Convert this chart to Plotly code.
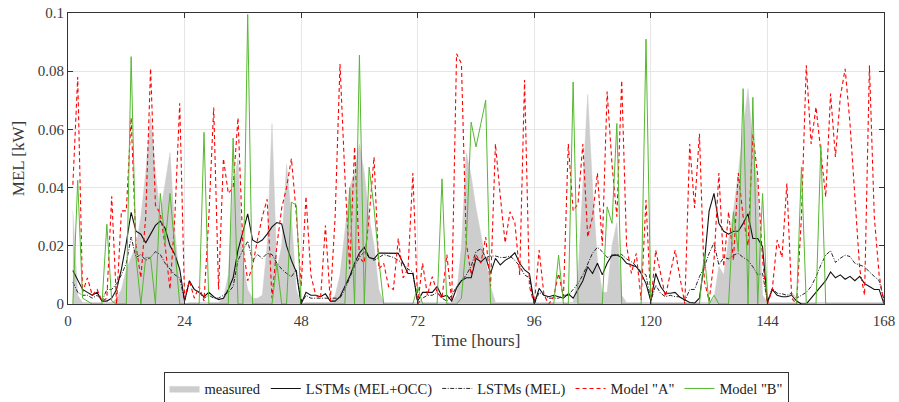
import plotly.graph_objects as go

hours = list(range(1, 169))

measured = [
    0.032, 0.003, 0.0005, 0.0005, 0.0005, 0.0005, 0.0005, 0.0005, 0.0005, 0.002, 0.005, 0.012,
    0.016, 0.02, 0.03, 0.045, 0.065, 0.045, 0.031, 0.042, 0.052, 0.025, 0.008, 0.0,
    0.0005, 0.0005, 0.0005, 0.0005, 0.0005, 0.0005, 0.0005, 0.002, 0.01, 0.04, 0.05, 0.015,
    0.005, 0.002, 0.002, 0.003, 0.02, 0.062, 0.012, 0.02, 0.048, 0.03, 0.005, 0.0,
    0.0005, 0.0005, 0.0005, 0.0005, 0.0005, 0.0005, 0.003, 0.01, 0.025, 0.04, 0.045, 0.055,
    0.045, 0.03, 0.02, 0.005, 0.0005, 0.0005, 0.0005, 0.0005, 0.0005, 0.0005, 0.0005, 0.0005,
    0.0005, 0.0005, 0.0005, 0.0005, 0.0005, 0.0005, 0.0005, 0.003, 0.02, 0.052, 0.044, 0.033,
    0.024, 0.015, 0.006, 0.0005, 0.0005, 0.0005, 0.0005, 0.0005, 0.0005, 0.0005, 0.0005, 0.0005,
    0.0005, 0.0005, 0.0005, 0.0005, 0.0005, 0.0005, 0.0005, 0.0005, 0.01, 0.04, 0.072, 0.04,
    0.015, 0.004, 0.004, 0.02, 0.028, 0.003, 0.0005, 0.0005, 0.0005, 0.0005, 0.0005, 0.0005,
    0.0005, 0.0005, 0.0005, 0.0005, 0.0005, 0.0005, 0.0005, 0.0005, 0.0005, 0.0005, 0.0005, 0.0005,
    0.002, 0.013, 0.01, 0.022, 0.032, 0.045, 0.06, 0.074, 0.055, 0.04, 0.003, 0.0005,
    0.0005, 0.0005, 0.0005, 0.0005, 0.0005, 0.0005, 0.0005, 0.0005, 0.0005, 0.0005, 0.0005, 0.0005,
    0.0005, 0.0005, 0.0005, 0.0005, 0.0005, 0.0005, 0.0005, 0.0005, 0.0005, 0.0005, 0.0005, 0.0005,
]

lstm_mel_occ = [
    0.0115, 0.0085, 0.005, 0.004, 0.003, 0.004, 0.001, 0.001, 0.002, 0.005, 0.012, 0.021,
    0.0315, 0.025, 0.024, 0.021, 0.024, 0.027, 0.0285, 0.026, 0.02, 0.017, 0.012, 0.001,
    0.008, 0.005, 0.004, 0.0025, 0.004, 0.0025, 0.0015, 0.002, 0.005, 0.009, 0.0185, 0.025,
    0.031, 0.022, 0.021, 0.022, 0.024, 0.0265, 0.028, 0.0275, 0.02, 0.015, 0.011, 0.0,
    0.004, 0.003, 0.003, 0.0025, 0.0035, 0.001, 0.001, 0.0025, 0.006, 0.0095, 0.014, 0.0175,
    0.0195, 0.016, 0.0155, 0.0175, 0.0175, 0.0175, 0.0175, 0.0174, 0.014, 0.0105, 0.0105, 0.001,
    0.004, 0.004, 0.004, 0.006, 0.0025, 0.003, 0.001, 0.0055, 0.008, 0.009, 0.009, 0.0157,
    0.0145, 0.016, 0.0105, 0.0157, 0.0134, 0.015, 0.016, 0.0176, 0.014, 0.0117, 0.0105, 0.0,
    0.0054, 0.003, 0.0025, 0.003, 0.0025, 0.002, 0.0035, 0.002, 0.005, 0.008, 0.0128, 0.0105,
    0.014, 0.01, 0.014, 0.0168, 0.0168, 0.016, 0.014, 0.0134, 0.0128, 0.0105, 0.007, 0.001,
    0.0105, 0.006, 0.0037, 0.0037, 0.004, 0.0023, 0.0014, 0.0005, 0.0003, 0.002, 0.014, 0.032,
    0.038, 0.0277, 0.025, 0.024, 0.025, 0.025, 0.0277, 0.031, 0.0225, 0.0225, 0.0197, 0.0005,
    0.005, 0.003, 0.0025, 0.0025, 0.003, 0.001, 0.0, 0.0, 0.002, 0.004, 0.006, 0.008,
    0.011, 0.009, 0.01, 0.0085, 0.0095, 0.008, 0.0095, 0.007, 0.006, 0.005, 0.005, 0.0,
]

lstm_mel = [
    0.0075, 0.004, 0.003, 0.003, 0.002, 0.003, 0.001, 0.005, 0.005, 0.007, 0.01, 0.014,
    0.023, 0.016, 0.017, 0.015, 0.016, 0.018, 0.017, 0.014, 0.012, 0.01, 0.009, 0.001,
    0.0077, 0.005, 0.004, 0.002, 0.003, 0.002, 0.002, 0.003, 0.004, 0.006, 0.015, 0.0185,
    0.0216, 0.015, 0.017, 0.0157, 0.0174, 0.017, 0.014, 0.012, 0.0105, 0.0094, 0.0117, 0.0,
    0.003, 0.002, 0.002, 0.002, 0.002, 0.002, 0.002, 0.002, 0.005, 0.009, 0.013, 0.016,
    0.018, 0.016, 0.015, 0.016, 0.017, 0.0165, 0.016, 0.015, 0.014, 0.012, 0.011, 0.0,
    0.002, 0.003, 0.003, 0.004, 0.002, 0.001, 0.003, 0.006, 0.008, 0.01, 0.013, 0.018,
    0.019, 0.016, 0.0165, 0.0165, 0.016, 0.016, 0.0165, 0.015, 0.013, 0.01, 0.009, 0.0,
    0.004, 0.003, 0.002, 0.002, 0.002, 0.003, 0.003, 0.005, 0.007, 0.01, 0.014, 0.0175,
    0.0195, 0.018, 0.016, 0.0165, 0.017, 0.017, 0.0155, 0.0145, 0.013, 0.011, 0.01, 0.001,
    0.0065, 0.0037, 0.0025, 0.003, 0.0025, 0.0025, 0.001, 0.005, 0.005, 0.0094, 0.0128, 0.0174,
    0.021, 0.0134, 0.016, 0.0155, 0.0168, 0.0174, 0.016, 0.015, 0.0128, 0.01, 0.0105, 0.0007,
    0.0054, 0.0037, 0.0035, 0.003, 0.0037, 0.002, 0.003, 0.004, 0.006, 0.0094, 0.0134, 0.0168,
    0.0183, 0.0143, 0.0157, 0.0168, 0.0163, 0.014, 0.0134, 0.0128, 0.011, 0.0094, 0.008, 0.0015,
]

model_a = [
    0.041, 0.078, 0.004, 0.009, 0.003, 0.005, 0.001, 0.002, 0.037, 0.0, 0.032, 0.032,
    0.064, 0.02, 0.009, 0.03, 0.081, 0.034, 0.031, 0.02, 0.005, 0.03, 0.069, 0.002,
    0.008, 0.002, 0.006, 0.001, 0.03, 0.0675, 0.005, 0.05, 0.038, 0.04, 0.064, 0.02,
    0.008, 0.013, 0.022, 0.03, 0.036, 0.002, 0.02, 0.033, 0.04, 0.05, 0.031, 0.006,
    0.037, 0.01, 0.003, 0.002, 0.027, 0.001, 0.03, 0.0825, 0.044, 0.012, 0.054, 0.016,
    0.014, 0.03, 0.0505, 0.012, 0.014, 0.006, 0.005, 0.0225, 0.009, 0.012, 0.045, 0.0,
    0.014, 0.003, 0.0094, 0.004, 0.002, 0.017, 0.001, 0.086, 0.0826, 0.021, 0.01, 0.017,
    0.014, 0.023, 0.006, 0.055, 0.037, 0.021, 0.0317, 0.028, 0.01, 0.077, 0.006, 0.0,
    0.0185, 0.003, 0.0, 0.0025, 0.0105, 0.0025, 0.055, 0.032, 0.0345, 0.055, 0.023, 0.03,
    0.045, 0.02, 0.073, 0.048, 0.03, 0.0768, 0.02, 0.0105, 0.0174, 0.0014, 0.0357, 0.0,
    0.0185, 0.0105, 0.0025, 0.0105, 0.0185, 0.009, 0.0, 0.055, 0.033, 0.0585, 0.008, 0.001,
    0.015, 0.045, 0.0128, 0.0317, 0.015, 0.045, 0.03, 0.02, 0.0585, 0.044, 0.015, 0.0,
    0.005, 0.022, 0.016, 0.0414, 0.002, 0.0, 0.03, 0.082, 0.055, 0.0677, 0.0517, 0.0368,
    0.0723, 0.0505, 0.0711, 0.0808, 0.062, 0.037, 0.012, 0.003, 0.082, 0.03, 0.01, 0.0,
]

model_b = [
    0.0, 0.0425, 0.002, 0.001, 0.0, 0.0, 0.0, 0.0274, 0.001, 0.0, 0.0, 0.0,
    0.085, 0.016, 0.0, 0.016, 0.016, 0.0, 0.038, 0.021, 0.038, 0.02, 0.0, 0.0,
    0.0, 0.0, 0.0, 0.059, 0.0, 0.0, 0.0, 0.0, 0.0, 0.057, 0.0, 0.0,
    0.0995, 0.0, 0.0, 0.0, 0.0, 0.0, 0.014, 0.0, 0.0, 0.035, 0.034, 0.0,
    0.0, 0.0, 0.0, 0.0, 0.0, 0.0, 0.0, 0.0, 0.0, 0.04, 0.0, 0.0855,
    0.0, 0.047, 0.033, 0.015, 0.0, 0.0, 0.0, 0.0, 0.0, 0.0, 0.0, 0.006,
    0.0, 0.0, 0.0, 0.0, 0.043, 0.0, 0.0, 0.0, 0.002, 0.021, 0.0625, 0.054,
    0.062, 0.07, 0.0, 0.0, 0.0, 0.0, 0.0, 0.0, 0.0, 0.0, 0.0, 0.0,
    0.0, 0.0, 0.0, 0.0, 0.0168, 0.0, 0.0, 0.0763, 0.0, 0.0, 0.0, 0.0,
    0.0, 0.0, 0.0334, 0.0277, 0.062, 0.0, 0.0, 0.0, 0.0, 0.0, 0.091, 0.0,
    0.0, 0.0, 0.0, 0.0, 0.0, 0.0, 0.0, 0.0, 0.0, 0.0, 0.017, 0.0,
    0.003, 0.0, 0.0, 0.0, 0.0317, 0.018, 0.074, 0.0, 0.071, 0.0, 0.038, 0.0,
    0.0, 0.0, 0.0, 0.0, 0.0, 0.0, 0.047, 0.0, 0.0, 0.0, 0.0545, 0.0,
    0.0, 0.0, 0.0, 0.0, 0.0, 0.0, 0.0, 0.0, 0.0, 0.0, 0.0, 0.0,
]

x_ticks = [0, 24, 48, 72, 96, 120, 144, 168]
y_ticks = [0, 0.02, 0.04, 0.06, 0.08, 0.1]
y_tick_labels = ["0", "0.02", "0.04", "0.06", "0.08", "0.1"]

FONT = "Liberation Serif, Times New Roman, serif"

fig = go.Figure()
fig.add_trace(go.Scatter(x=hours, y=measured, name="measured", mode="lines",
                         fill="tozeroy", fillcolor="#cdcdcd",
                         line=dict(color="#cdcdcd", width=0.5)))
fig.add_trace(go.Scatter(x=hours, y=lstm_mel_occ, name="LSTMs (MEL+OCC)", mode="lines",
                         line=dict(color="#111111", width=1.1)))
fig.add_trace(go.Scatter(x=hours, y=lstm_mel, name="LSTMs (MEL)", mode="lines",
                         line=dict(color="#111111", width=0.9, dash="4px,1.5px,1px,1.5px")))
fig.add_trace(go.Scatter(x=hours, y=model_a, name='Model "A"', mode="lines",
                         line=dict(color="#ff0000", width=1.1, dash="4px,3px")))
fig.add_trace(go.Scatter(x=hours, y=model_b, name='Model "B"', mode="lines",
                         line=dict(color="#55b830", width=1.0)))

axis_common = dict(
    showline=True, linecolor="#333333", linewidth=1, mirror="ticks",
    ticks="inside", ticklen=5, tickcolor="#333333",
    showgrid=True, gridcolor="#e6e6e6", gridwidth=1, zeroline=False,
    tickfont=dict(family=FONT, size=15, color="#3a3a3a"),
    automargin=False, ticklabeloverflow="allow",
)

fig.update_layout(
    width=899, height=402,
    margin=dict(l=68, r=15, t=12.5, b=98, autoexpand=False),
    paper_bgcolor="white", plot_bgcolor="white",
    font=dict(family=FONT, color="#3a3a3a"),
    xaxis=dict(range=[0, 168], tickvals=x_ticks, ticklabelstandoff=3,
               title=dict(text="Time [hours]", font=dict(family=FONT, size=17), standoff=6),
               **axis_common),
    yaxis=dict(range=[0, 0.1], tickvals=y_ticks, ticktext=y_tick_labels,
               title=dict(text="MEL [kW]", font=dict(family=FONT, size=17), standoff=8),
               **axis_common),
    showlegend=True,
    legend=dict(orientation="h", x=0.5, xanchor="center", y=-0.232, yanchor="top",
                bordercolor="#333333", borderwidth=1, bgcolor="white",
                font=dict(family=FONT, size=14.5, color="#222222"),
                itemwidth=30, tracegroupgap=0),
)

# Remove the default page margin so the figure fills the browser window exactly.
fig.write_html("out.html",
               config={"displayModeBar": False},
               post_script="document.body.style.margin='0';document.body.style.overflow='hidden';")
